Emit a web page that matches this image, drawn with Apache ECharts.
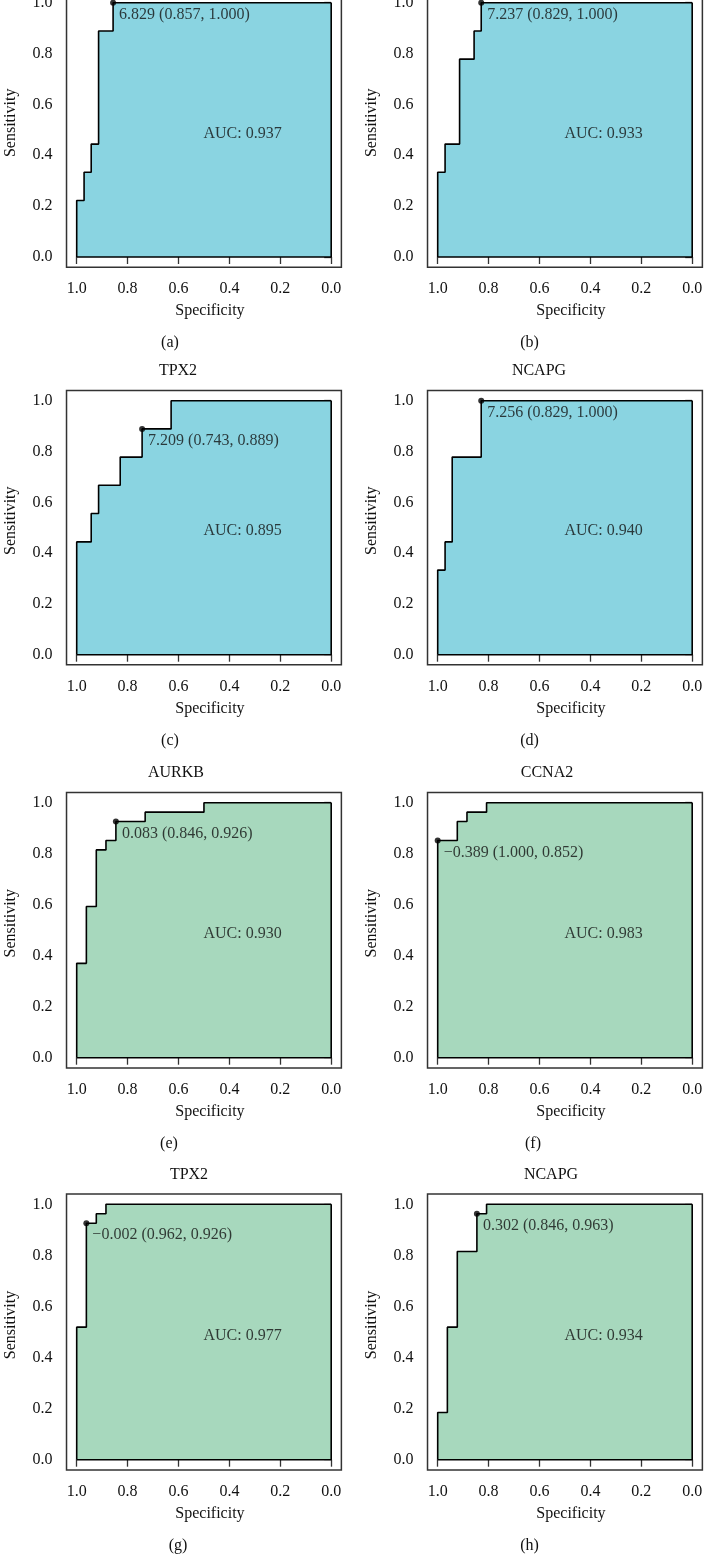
<!DOCTYPE html>
<html><head><meta charset="utf-8">
<script src="https://cdn.jsdelivr.net/npm/echarts@6/dist/echarts.min.js"></script>
<style>html,body{margin:0;padding:0;background:#fff}#c{width:704px;height:1554px}</style>
</head><body><div id="c"></div>
<script>
// ---------- data ----------
const panelLabels = ['(a)','(b)','(c)','(d)','(e)','(f)','(g)','(h)'];
const geneTitles = [null, null, 'TPX2', 'NCAPG', 'AURKB', 'CCNA2', 'TPX2', 'NCAPG'];
const tickValues = [0, 0.2, 0.4, 0.6, 0.8, 1.0];

const specA = [1, 1, 0.971, 0.971, 0.943, 0.943, 0.914, 0.914, 0.857, 0.857, 0];
const sensA = [0, 0.222, 0.222, 0.333, 0.333, 0.444, 0.444, 0.889, 0.889, 1, 1];
const specB = [1, 1, 0.971, 0.971, 0.914, 0.914, 0.857, 0.857, 0.829, 0.829, 0];
const sensB = [0, 0.333, 0.333, 0.444, 0.444, 0.778, 0.778, 0.889, 0.889, 1, 1];
const specC = [1, 1, 0.943, 0.943, 0.914, 0.914, 0.829, 0.829, 0.743, 0.743, 0.629, 0.629, 0];
const sensC = [0, 0.444, 0.444, 0.556, 0.556, 0.667, 0.667, 0.778, 0.778, 0.889, 0.889, 1, 1];
const specD = [1, 1, 0.971, 0.971, 0.943, 0.943, 0.829, 0.829, 0];
const sensD = [0, 0.333, 0.333, 0.444, 0.444, 0.778, 0.778, 1, 1];
const specE = [1, 1, 0.962, 0.962, 0.923, 0.923, 0.885, 0.885, 0.846, 0.846, 0.731, 0.731, 0.5, 0.5, 0];
const sensE = [0, 0.370, 0.370, 0.593, 0.593, 0.815, 0.815, 0.852, 0.852, 0.926, 0.926, 0.963, 0.963, 1, 1];
const specF = [1, 1, 0.923, 0.923, 0.885, 0.885, 0.808, 0.808, 0];
const sensF = [0, 0.852, 0.852, 0.926, 0.926, 0.963, 0.963, 1, 1];
const specG = [1, 1, 0.962, 0.962, 0.923, 0.923, 0.885, 0.885, 0];
const sensG = [0, 0.519, 0.519, 0.926, 0.926, 0.963, 0.963, 1, 1];
const specH = [1, 1, 0.962, 0.962, 0.923, 0.923, 0.846, 0.846, 0.808, 0.808, 0];
const sensH = [0, 0.185, 0.185, 0.519, 0.519, 0.815, 0.815, 0.963, 0.963, 1, 1];

const bestThreshold = [6.829, 7.237, 7.209, 7.256, 0.083, -0.389, -0.002, 0.302];
const bestSpec = [0.857, 0.829, 0.743, 0.829, 0.846, 1.000, 0.962, 0.846];
const bestSens = [1.000, 1.000, 0.889, 1.000, 0.926, 0.852, 0.926, 0.963];
const aucValues = [0.937, 0.933, 0.895, 0.940, 0.930, 0.983, 0.977, 0.934];

const specAll = [specA, specB, specC, specD, specE, specF, specG, specH];
const sensAll = [sensA, sensB, sensC, sensD, sensE, sensF, sensG, sensH];

// ---------- layout / style ----------
const FONT = 'Liberation Serif';
const TXT = '#111';
const colX1 = [76.7, 437.7];           // pixel of specificity 1.0
const xScale = 254.5;
const rowY1 = [2.7, 400.7, 802.7, 1204.3]; // pixel of sensitivity 1.0
const rowScale = [254.3, 254, 255, 255.4];
const titleX = [null, null, 178, 539, 176, 547, 189, 551];
const subX = [170, 529.5, 170, 529.5, 169, 533, 178, 529.5];
const fillColors = ['#8AD4E1', '#8AD4E1', '#8AD4E1', '#8AD4E1', '#A7D8BD', '#A7D8BD', '#A7D8BD', '#A7D8BD'];

const grids = [], xAxes = [], yAxes = [], series = [], titles = [];
const fmtNum = v => (v < 0 ? '\u2212' : '') + Math.abs(v).toFixed(3);

for (let i = 0; i < 8; i++) {
  const col = i % 2, row = Math.floor(i / 2);
  const s = rowScale[row];
  grids.push({
    left: colX1[col] - 0.04 * xScale, width: 1.08 * xScale,
    top: rowY1[row] - 0.04 * s, height: 1.08 * s,
    outerBoundsMode: 'none', containLabel: false,
    show: true, borderColor: '#333', borderWidth: 1.5, backgroundColor: 'transparent'
  });
  const axisCommon = {
    type: 'value', min: -0.04, max: 1.04, gridIndex: i,
    splitLine: { show: false }, axisLine: { show: false },
    axisTick: { show: true, customValues: tickValues, length: 7, lineStyle: { color: '#333', width: 1.3 } },
    axisLabel: { customValues: tickValues, formatter: v => v.toFixed(1), margin: 14,
      fontFamily: FONT, fontSize: 16, color: TXT },
    nameLocation: 'middle',
    nameTextStyle: { fontFamily: FONT, fontSize: 16, color: TXT }
  };
  xAxes.push(Object.assign({}, axisCommon, {
    inverse: true, position: 'bottom', name: 'Specificity', nameGap: 36,
    nameTextStyle: { fontFamily: FONT, fontSize: 16, color: TXT, padding: [0, 0, 0, 12] }
  }));
  yAxes.push(Object.assign({}, axisCommon, {
    position: 'left', name: 'Sensitivity', nameGap: 48, nameRotate: 90,
    nameTextStyle: { fontFamily: FONT, fontSize: 16, color: TXT, padding: [0, 0, 0, 14] }
  }));

  const pts = specAll[i].map((sp, k) => [sp, sensAll[i][k]]);
  series.push({
    type: 'line', xAxisIndex: i, yAxisIndex: i, data: pts,
    showSymbol: false, symbol: 'none', silent: true, animation: false,
    lineStyle: { color: '#000', width: 1.6 },
    areaStyle: { color: fillColors[i], opacity: 1 }, z: 2
  });
  series.push({
    type: 'line', xAxisIndex: i, yAxisIndex: i, data: [[0, 1], [0, 0], [1, 0]],
    symbol: 'none', silent: true, animation: false,
    lineStyle: { color: '#000', width: 1.6 }, z: 3
  });
  series.push({
    type: 'scatter', xAxisIndex: i, yAxisIndex: i,
    data: [[bestSpec[i], bestSens[i]]], symbol: 'circle', symbolSize: 6,
    itemStyle: { color: '#000' }, animation: false, z: 5,
    label: {
      show: true, position: [9, 15], align: 'left', verticalAlign: 'middle',
      fontFamily: FONT, fontSize: 16, color: TXT,
      formatter: () => fmtNum(bestThreshold[i]) + ' (' + bestSpec[i].toFixed(3) + ', ' + bestSens[i].toFixed(3) + ')'
    }
  });
  series.push({
    type: 'scatter', xAxisIndex: i, yAxisIndex: i,
    data: [[0.5, 0.5]], symbol: 'circle', symbolSize: 1,
    itemStyle: { color: 'rgba(0,0,0,0)' }, animation: false, z: 5,
    label: {
      show: true, position: [0, 4], align: 'left', verticalAlign: 'middle',
      fontFamily: FONT, fontSize: 16, color: TXT,
      formatter: () => 'AUC: ' + aucValues[i].toFixed(3)
    }
  });

  if (geneTitles[i]) {
    titles.push({ text: geneTitles[i], left: titleX[i], top: rowY1[row] - 30, padding: 0,
      textAlign: 'center', textVerticalAlign: 'middle',
      textStyle: { fontFamily: FONT, fontSize: 16, fontWeight: 'normal', color: TXT } });
  }
  titles.push({ text: panelLabels[i], left: subX[i], top: rowY1[row] + s + 86, padding: 0,
    textAlign: 'center', textVerticalAlign: 'middle',
    textStyle: { fontFamily: FONT, fontSize: 16, fontWeight: 'normal', color: TXT } });
}

const chart = echarts.init(document.getElementById('c'), null, { renderer: 'canvas' });
chart.setOption({
  animation: false,
  backgroundColor: '#fff',
  title: titles, grid: grids, xAxis: xAxes, yAxis: yAxes, series: series
});
</script></body></html>
